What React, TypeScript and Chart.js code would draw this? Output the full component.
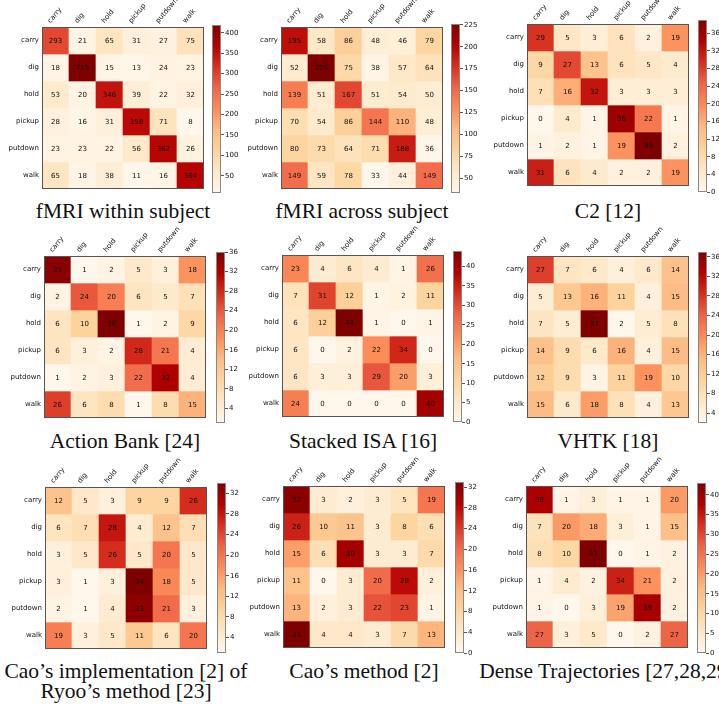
import React, { useEffect, useRef } from "react";
import { Chart, registerables } from "chart.js";
Chart.register(...registerables);

// ---------- data ----------
const categories = ["carry", "dig", "hold", "pickup", "putdown", "walk"];

const fmriWithin = [
  [293, 21, 65, 31, 27, 75],
  [18, 419, 15, 13, 24, 23],
  [53, 20, 346, 39, 22, 32],
  [28, 16, 31, 358, 71, 8],
  [23, 23, 22, 56, 362, 26],
  [65, 18, 38, 11, 16, 364],
];
const fmriWithinTicks = [50, 100, 150, 200, 250, 300, 350, 400];

const fmriAcross = [
  [195, 58, 86, 48, 46, 79],
  [52, 226, 75, 38, 57, 64],
  [139, 51, 167, 51, 54, 50],
  [70, 54, 86, 144, 110, 48],
  [80, 73, 64, 71, 188, 36],
  [149, 59, 78, 33, 44, 149],
];
const fmriAcrossTicks = [50, 75, 100, 125, 150, 175, 200, 225];

const c2 = [
  [29, 5, 3, 6, 2, 19],
  [9, 27, 13, 6, 5, 4],
  [7, 16, 32, 3, 3, 3],
  [0, 4, 1, 36, 22, 1],
  [1, 2, 1, 19, 39, 2],
  [31, 6, 4, 2, 2, 19],
];
const c2Ticks = [0, 4, 8, 12, 16, 20, 24, 28, 32, 36];

const actionBank = [
  [35, 1, 2, 5, 3, 18],
  [2, 24, 20, 6, 5, 7],
  [6, 10, 36, 1, 2, 9],
  [6, 3, 2, 28, 21, 4],
  [1, 2, 3, 22, 32, 4],
  [26, 6, 8, 1, 8, 15],
];
const actionBankTicks = [4, 8, 12, 16, 20, 24, 28, 32, 36];

const stackedIsa = [
  [23, 4, 6, 4, 1, 26],
  [7, 31, 12, 1, 2, 11],
  [6, 12, 44, 1, 0, 1],
  [6, 0, 2, 22, 34, 0],
  [6, 3, 3, 29, 20, 3],
  [24, 0, 0, 0, 0, 40],
];
const stackedIsaTicks = [0, 5, 10, 15, 20, 25, 30, 35, 40];

const vhtk = [
  [27, 7, 6, 4, 6, 14],
  [5, 13, 16, 11, 4, 15],
  [7, 5, 37, 2, 5, 8],
  [14, 9, 6, 16, 4, 15],
  [12, 9, 3, 11, 19, 10],
  [15, 6, 18, 8, 4, 13],
];
const vhtkTicks = [4, 8, 12, 16, 20, 24, 28, 32, 36];

const caoRyoo = [
  [12, 5, 3, 9, 9, 26],
  [6, 7, 28, 4, 12, 7],
  [3, 5, 26, 5, 20, 5],
  [3, 1, 3, 34, 18, 5],
  [2, 1, 4, 33, 21, 3],
  [19, 3, 5, 11, 6, 20],
];
const caoRyooTicks = [4, 8, 12, 16, 20, 24, 28, 32];

const caoMethod = [
  [32, 3, 2, 3, 5, 19],
  [26, 10, 11, 3, 8, 6],
  [15, 6, 30, 3, 3, 7],
  [11, 0, 3, 20, 28, 2],
  [13, 2, 3, 22, 23, 1],
  [33, 4, 4, 3, 7, 13],
];
const caoMethodTicks = [0, 4, 8, 12, 16, 20, 24, 28, 32];

const denseTraj = [
  [38, 1, 3, 1, 1, 20],
  [7, 20, 18, 3, 1, 15],
  [8, 10, 43, 0, 1, 2],
  [1, 4, 2, 34, 21, 2],
  [1, 0, 3, 19, 39, 2],
  [27, 3, 5, 0, 2, 27],
];
const denseTrajTicks = [0, 5, 10, 15, 20, 25, 30, 35, 40];

const titles = [
  ["fMRI within subject"],
  ["fMRI across subject"],
  ["C2 [12]"],
  ["Action Bank [24]"],
  ["Stacked ISA [16]"],
  ["VHTK [18]"],
  ["Cao\u2019s implementation [2] of", "Ryoo\u2019s method [23]"],
  ["Cao\u2019s method [2]"],
  ["Dense Trajectories [27,28,29]"],
];
const matrices = [fmriWithin, fmriAcross, c2, actionBank, stackedIsa, vhtk, caoRyoo, caoMethod, denseTraj];
const tickSets = [fmriWithinTicks, fmriAcrossTicks, c2Ticks, actionBankTicks, stackedIsaTicks, vhtkTicks, caoRyooTicks, caoMethodTicks, denseTrajTicks];

// ---------- layout (pixels) ----------
const SIZE = 162;
const layout = [
  { L: 42, T: 27, cbL: 212, cbT: 25, cbB: 193, capY: 217 },
  { L: 281, T: 27, cbL: 451, cbT: 24, cbB: 193, capY: 217 },
  { L: 527, T: 24, cbL: 698, cbT: 20, cbB: 192, capY: 217 },
  { L: 44, T: 256, cbL: 216, cbT: 252, cbB: 423, capY: 447 },
  { L: 282, T: 255, cbL: 453, cbT: 251, cbB: 422, capY: 447 },
  { L: 527, T: 256, cbL: 698, cbT: 252, cbB: 423, capY: 447 },
  { L: 45, T: 487, cbL: 217, cbT: 483, cbB: 653, capY: 677 },
  { L: 283, T: 486, cbL: 455, cbT: 482, cbB: 653, capY: 677 },
  { L: 526, T: 486, cbL: 697, cbT: 483, cbB: 653, capY: 677 },
];

// OrRd colormap
const orrd = ["#fff7ec", "#fee8c8", "#fdd49e", "#fdbb84", "#fc8d59", "#ef6548", "#d7301f", "#b30000", "#7f0000"];
const hex = (h: string) => [parseInt(h.slice(1, 3), 16), parseInt(h.slice(3, 5), 16), parseInt(h.slice(5, 7), 16)];
function cmap(t: number) {
  t = Math.max(0, Math.min(1, t));
  const p = t * (orrd.length - 1);
  const i = Math.min(orrd.length - 2, Math.floor(p));
  const f = p - i;
  const a = hex(orrd[i]);
  const b = hex(orrd[i + 1]);
  const c = a.map((v, k) => Math.round(v + (b[k] - v) * f));
  return `rgb(${c[0]},${c[1]},${c[2]})`;
}

const FONT = "DejaVu Sans";
const AXW = 46;
const AXH = 40;
const PADR = 24;

function Matrix({ values, box }: { values: number[][]; box: any }) {
  const ref = useRef<HTMLCanvasElement>(null);
  useEffect(() => {
    const flat = values.flat();
    const vmin = Math.min(...flat);
    const vmax = Math.max(...flat);
    const cellText = {
      id: "cellText",
      afterDatasetsDraw(chart: any) {
        const ctx = chart.ctx;
        ctx.save();
        ctx.font = `7px "${FONT}"`;
        ctx.fillStyle = "#111";
        ctx.textAlign = "center";
        ctx.textBaseline = "middle";
        chart.data.datasets.forEach((_: any, i: number) => {
          const meta = chart.getDatasetMeta(i);
          meta.data.forEach((el: any, j: number) => {
            const p = el.getProps(["x", "y", "base"], true);
            ctx.fillText(String(values[i][j]), p.x, (p.y + p.base) / 2 + 0.5);
          });
        });
        const a = chart.chartArea;
        ctx.strokeStyle = "#555";
        ctx.lineWidth = 1;
        ctx.strokeRect(a.left + 0.5, a.top + 0.5, a.right - a.left - 1, a.bottom - a.top - 1);
        ctx.restore();
      },
    };
    const chart = new Chart(ref.current!, {
      type: "bar",
      data: {
        labels: categories,
        datasets: values.map((row, i) => ({
          data: row.map(() => [i, i + 1]),
          backgroundColor: row.map((v) => cmap((v - vmin) / (vmax - vmin))),
          borderWidth: 0,
          grouped: false,
          barPercentage: 1,
          categoryPercentage: 1,
        })) as any,
      },
      options: {
        animation: false,
        responsive: false,
        devicePixelRatio: 1,
        layout: { padding: { top: 0, left: 0, right: PADR, bottom: 2 } },
        plugins: { legend: { display: false }, tooltip: { enabled: false } },
        scales: {
          x: {
            position: "top",
            grid: { display: false, drawTicks: false },
            border: { display: false },
            ticks: {
              minRotation: 50,
              maxRotation: 50,
              padding: 2,
              autoSkip: false,
              font: { family: FONT, size: 7 },
              color: "#111",
            },
            afterFit: (s: any) => {
              s.height = AXH;
              s.paddingLeft = 0;
              s.paddingRight = 0;
            },
          },
          y: {
            type: "linear",
            min: 0,
            max: 6,
            reverse: true,
            grid: { display: false, drawTicks: false },
            border: { display: false },
            afterBuildTicks: (s: any) => {
              s.ticks = categories.map((_, i) => ({ value: i + 0.5 }));
            },
            ticks: {
              padding: 3,
              font: { family: FONT, size: 7 },
              color: "#111",
              callback: (v: any) => categories[Math.floor(Number(v))],
            },
            afterFit: (s: any) => {
              s.width = AXW;
              s.paddingTop = 0;
              s.paddingBottom = 0;
            },
          },
        },
      } as any,
      plugins: [cellText],
    });
    return () => chart.destroy();
  }, [values]);
  const w = AXW + SIZE + PADR;
  const h = AXH + SIZE + 2;
  return (
    <canvas
      ref={ref}
      width={w}
      height={h}
      style={{ position: "absolute", left: box.L - AXW, top: box.T - AXH, width: w, height: h }}
    />
  );
}

const CBW = 9;
const CBAX = 30;
const CBPAD = 6;

function ColorBar({ values, ticks, box }: { values: number[][]; ticks: number[]; box: any }) {
  const ref = useRef<HTMLCanvasElement>(null);
  useEffect(() => {
    const flat = values.flat();
    const vmin = Math.min(...flat);
    const vmax = Math.max(...flat);
    const outline = {
      id: "outline",
      afterDraw(chart: any) {
        const ctx = chart.ctx;
        const a = chart.chartArea;
        ctx.save();
        ctx.strokeStyle = "#888";
        ctx.lineWidth = 1;
        ctx.strokeRect(a.left + 0.5, a.top + 0.5, a.right - a.left - 1, a.bottom - a.top - 1);
        ctx.restore();
      },
    };
    const chart = new Chart(ref.current!, {
      type: "bar",
      data: {
        labels: [""],
        datasets: [
          {
            data: [[vmin, vmax]],
            backgroundColor: (c: any) => {
              const a = c.chart.chartArea;
              if (!a) return orrd[4];
              const g = c.chart.ctx.createLinearGradient(0, a.bottom, 0, a.top);
              orrd.forEach((col, i) => g.addColorStop(i / (orrd.length - 1), col));
              return g;
            },
            borderWidth: 0,
            barPercentage: 1,
            categoryPercentage: 1,
          },
        ] as any,
      },
      options: {
        animation: false,
        responsive: false,
        devicePixelRatio: 1,
        layout: { padding: { top: CBPAD, bottom: CBPAD, left: 0, right: 0 } },
        plugins: { legend: { display: false }, tooltip: { enabled: false } },
        scales: {
          x: { display: false },
          y: {
            position: "right",
            min: vmin,
            max: vmax,
            afterBuildTicks: (s: any) => {
              s.ticks = ticks.map((v) => ({ value: v }));
            },
            grid: { drawOnChartArea: false, tickLength: 3, color: "#555" },
            border: { display: false },
            ticks: { padding: 1, font: { family: FONT, size: 7 }, color: "#111" },
            afterFit: (s: any) => {
              s.width = CBAX;
              s.paddingTop = 0;
              s.paddingBottom = 0;
            },
          },
        },
      } as any,
      plugins: [outline],
    });
    return () => chart.destroy();
  }, [values, ticks]);
  const w = CBW + CBAX;
  const h = box.cbB - box.cbT + 2 * CBPAD;
  return (
    <canvas
      ref={ref}
      width={w}
      height={h}
      style={{ position: "absolute", left: box.cbL, top: box.cbT - CBPAD, width: w, height: h }}
    />
  );
}

export default function App() {
  return (
    <div
      style={{
        position: "absolute",
        left: 0,
        top: 0,
        width: 719,
        height: 710,
        overflow: "hidden",
        background: "#fff",
      }}
    >
      {layout.map((box, k) => {
        const cx = box.L + SIZE / 2;
        return (
          <div
            key={"cap" + k}
            style={{
              position: "absolute",
              left: cx - 200,
              width: 400,
              top: box.capY - 16,
              textAlign: "center",
              fontFamily: '"Liberation Serif", serif',
              fontSize: 21.5,
              lineHeight: "20px",
              color: "#111",
              whiteSpace: "nowrap",
            }}
          >
            {titles[k].map((t, i) => (
              <div key={i}>{t}</div>
            ))}
          </div>
        );
      })}
      {layout.map((box, k) => (
        <Matrix key={"m" + k} values={matrices[k]} box={box} />
      ))}
      {layout.map((box, k) => (
        <ColorBar key={"c" + k} values={matrices[k]} ticks={tickSets[k]} box={box} />
      ))}
    </div>
  );
}
